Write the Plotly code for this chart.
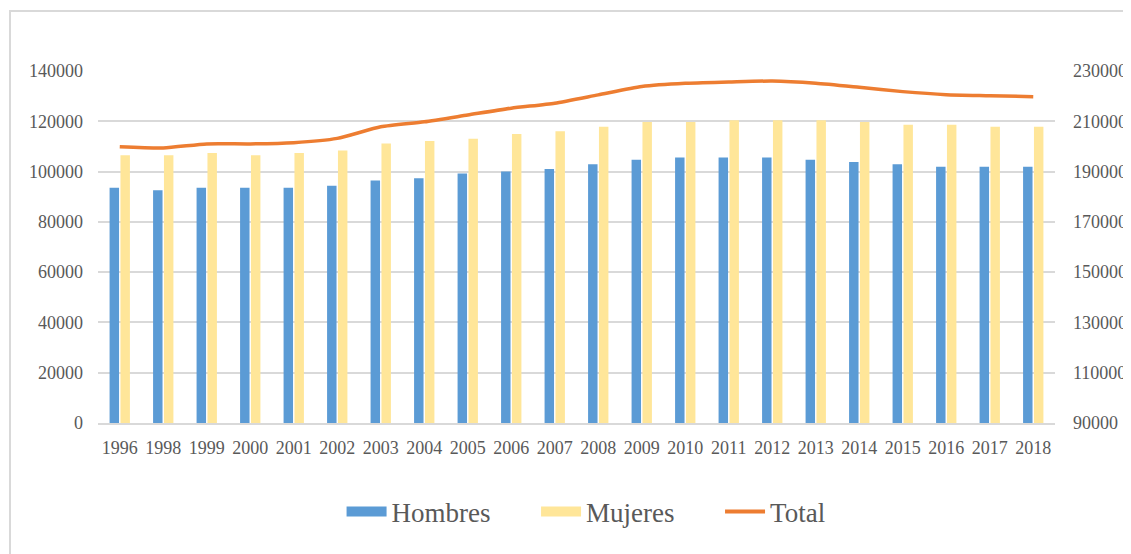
import plotly.graph_objects as go

years = ["1996", "1998", "1999", "2000", "2001", "2002", "2003", "2004", "2005", "2006", "2007",
         "2008", "2009", "2010", "2011", "2012", "2013", "2014", "2015", "2016", "2017", "2018"]
hombres = [93600, 92600, 93600, 93600, 93600, 94400, 96400, 97300, 99200, 100000, 101000,
           102900, 104700, 105600, 105600, 105600, 104700, 103800, 102900, 101900, 101900, 101900]
mujeres = [106500, 106500, 107400, 106500, 107400, 108400, 111200, 112200, 113100, 114900, 116000,
           117800, 119700, 119700, 120400, 120400, 120400, 119700, 118600, 118600, 117800, 117800]
total = [199900, 199400, 201000, 201000, 201500, 203200, 207800, 209800, 212500, 215200, 217200,
         220500, 223800, 225100, 225600, 226000, 225100, 223500, 221800, 220600, 220200, 219800]

left_ticks = list(range(0, 140001, 20000))
right_ticks = list(range(90000, 230001, 20000))

FONT = "Liberation Serif"
TXT = "#595959"
BLUE, YELLOW, ORANGE = "#5B9BD5", "#FFE699", "#ED7D31"
PAD = "\u00a0" * 6

fig = go.Figure()
fig.add_trace(go.Bar(x=years, y=hombres, name="Hombres", legendgroup="h", showlegend=False,
                     marker=dict(color=BLUE, line=dict(width=0))))
fig.add_trace(go.Bar(x=years, y=mujeres, name="Mujeres", legendgroup="m", showlegend=False,
                     marker=dict(color=YELLOW, line=dict(width=0))))
fig.add_trace(go.Scatter(x=years, y=total, name="Total", yaxis="y2", mode="lines", showlegend=False,
                         legendgroup="t",
                         line=dict(color=ORANGE, width=3.5, shape="spline", smoothing=0.6)))
# legend entries (wide swatches like the original)
fig.add_trace(go.Scatter(x=[None], y=[None], name="Hombres" + PAD, legendgroup="h", mode="lines",
                         line=dict(color=BLUE, width=19)))
fig.add_trace(go.Scatter(x=[None], y=[None], name="Mujeres" + PAD, legendgroup="m", mode="lines",
                         line=dict(color=YELLOW, width=19)))
fig.add_trace(go.Scatter(x=[None], y=[None], name="Total", legendgroup="t", mode="lines",
                         line=dict(color=ORANGE, width=4)))

OFF = 8  # page body margin
W, H = 1131 - OFF, 554 - OFF
L, T = 98 - OFF, 71 - OFF
pw, ph = 957, 352
R = W - L - pw
B = H - T - ph

fig.update_layout(
    width=W, height=H,
    margin=dict(l=L, r=R, t=T, b=B, autoexpand=False),
    paper_bgcolor="white", plot_bgcolor="white",
    font=dict(family=FONT, color=TXT, size=18),
    barmode="group", bargap=0.5, bargroupgap=0.13,
    showlegend=True,
    legend=dict(orientation="h", x=0.51, xanchor="center", y=-0.253, yanchor="middle",
                font=dict(size=27, color=TXT, family=FONT), itemwidth=40,
                traceorder="normal"),
    xaxis=dict(type="category", showgrid=False, showline=True, linecolor="#d9d9d9", linewidth=1.5,
               ticks="", tickfont=dict(size=18, color=TXT), ticklabelstandoff=8, automargin=False),
    yaxis=dict(range=[0, 140000], tickvals=left_ticks, ticktext=[str(v) for v in left_ticks],
               showgrid=True, gridcolor="#d9d9d9", gridwidth=1.5, zeroline=False, ticks="",
               tickfont=dict(size=18, color=TXT), ticklabelstandoff=14, automargin=False),
    yaxis2=dict(range=[90000, 230000], tickvals=right_ticks, ticktext=[str(v) for v in right_ticks],
                overlaying="y", side="right", showgrid=False, zeroline=False, ticks="",
                tickfont=dict(size=18, color=TXT), ticklabelstandoff=17, automargin=False),
    shapes=[dict(type="rect", xref="paper", yref="paper",
                 x0=(10 - 98) / pw, x1=(1131 + 20 - 98) / pw,
                 y0=(423 - 574) / ph, y1=(423 - 11) / ph,
                 line=dict(color="#d9d9d9", width=2), fillcolor="rgba(0,0,0,0)", layer="below")],
)

fig.write_html("out.html")
